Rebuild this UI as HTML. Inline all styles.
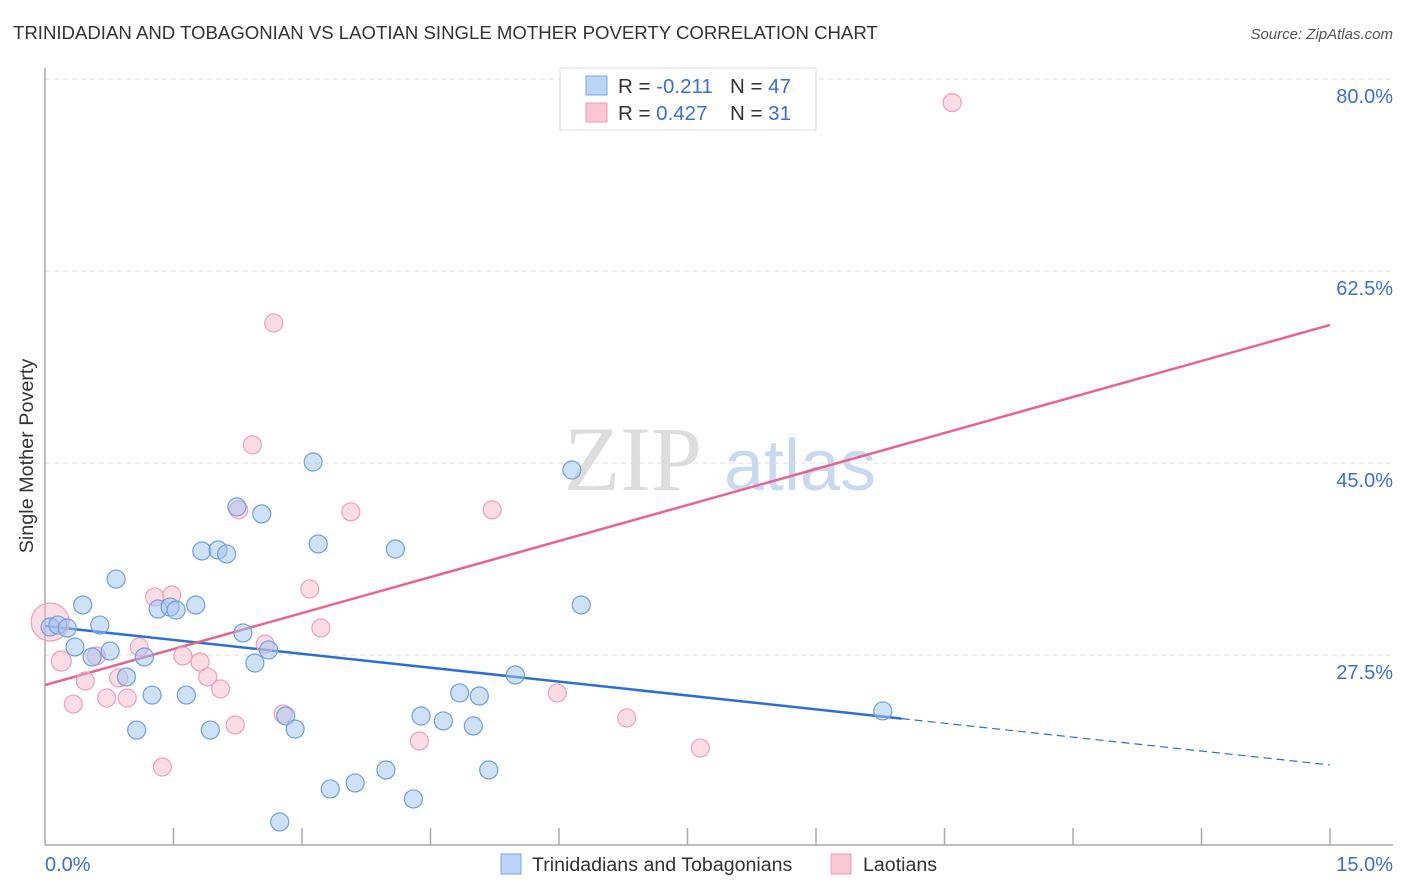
<!DOCTYPE html>
<html><head><meta charset="utf-8"><style>
body{margin:0;background:#fff;font-family:"Liberation Sans",sans-serif;}
svg{display:block}
</style></head><body>
<svg width="1406" height="892" xmlns="http://www.w3.org/2000/svg" id="chart">
<text x="13" y="39" font-size="18.6" fill="#333">TRINIDADIAN AND TOBAGONIAN VS LAOTIAN SINGLE MOTHER POVERTY CORRELATION CHART</text>
<text x="1393" y="39" font-size="15" fill="#555" font-style="italic" text-anchor="end">Source: ZipAtlas.com</text>
<text x="33" y="456" font-size="19.8" fill="#333" text-anchor="middle" transform="rotate(-90 33 456)">Single Mother Poverty</text>
<g>
<text x="633" y="490" font-size="92" font-family="Liberation Serif,serif" fill="#ddd" text-anchor="middle">ZIP</text>
<text x="800" y="490" font-size="72" fill="#c8daf0" text-anchor="middle">atlas</text>
</g>
<g id="grid"></g><g id="axes"></g><g id="trends"></g><g id="points"></g>
<g>
<rect x="560" y="68" width="256" height="62" fill="#fff" stroke="#ddd"/>
<rect x="586" y="76" width="21" height="19" fill="#bcd4f6" stroke="#7aa6e6"/>
<rect x="586" y="103" width="21" height="19" fill="#fbc6d6" stroke="#f09ab4"/>
<text x="618" y="93" font-size="20.5" fill="#333">R = <tspan fill="#3b6fd6">-0.211</tspan><tspan x="730">N = </tspan><tspan fill="#3b6fd6">47</tspan></text>
<text x="618" y="120" font-size="20.5" fill="#333">R = <tspan fill="#3b6fd6"> 0.427</tspan><tspan x="730">N = </tspan><tspan fill="#3b6fd6"> 31</tspan></text>
</g>
<g>
<rect x="501" y="854" width="20" height="20" fill="#bcd4f6" stroke="#7aa6e6"/>
<text x="532" y="871" font-size="19.6" fill="#333">Trinidadians and Tobagonians</text>
<rect x="831" y="854" width="20" height="20" fill="#fbc6d6" stroke="#f09ab4"/>
<text x="863" y="871" font-size="19.6" fill="#333">Laotians</text>
</g>
</svg>
<script>
const NS="http://www.w3.org/2000/svg";
const blueX=[0.06,0.15,0.26,0.35,0.44,0.64,0.76,0.55,0.83,0.95,1.07,1.16,1.25,1.32,1.46,1.53,1.65,1.76,1.83,1.93,2.02,2.12,2.24,2.31,2.45,2.53,2.61,2.74,2.81,2.92,3.13,3.19,3.33,3.62,3.98,4.09,4.30,4.39,4.65,4.84,5.00,5.07,5.18,5.49,6.15,6.26,9.78];
const blueY=[30.05,30.23,29.96,28.23,32.06,30.23,27.86,27.32,34.42,25.50,20.66,27.32,23.85,31.69,31.87,31.60,23.85,32.06,36.98,20.66,37.07,36.71,41.00,29.51,26.77,40.36,27.96,12.28,21.94,20.75,45.09,37.62,15.29,15.84,17.02,37.16,14.38,21.94,21.49,24.04,21.03,23.76,17.02,25.68,44.36,32.06,22.40];
const pinkX=[0.06,0.19,0.33,0.47,0.60,0.72,0.86,0.96,1.10,1.28,1.37,1.48,1.61,1.81,1.90,2.05,2.22,2.26,2.42,2.57,2.67,2.78,3.09,3.22,3.57,4.37,5.22,5.98,6.79,7.65,10.59];
const pinkY=[30.51,26.95,23.03,25.13,27.41,23.58,25.41,23.58,28.23,32.79,17.29,32.97,27.41,26.86,25.50,24.40,21.12,40.73,46.65,28.50,57.76,22.13,33.52,29.96,40.55,19.66,40.73,24.04,21.76,19.02,77.85];
const pinkR=[19,10,9,9,9,9,9,9,9,9,9,9,9,9,9,9,9,9,9,9,9,9,9,9,9,9,9,9,9,9,9];
const yTicks=[27.5,45.0,62.5,80.0];
const xTickLabels=["0.0%","15.0%"];
const blueTrend=[30.14,-0.844];
const pinkTrend=[24.76,2.188];
const X=v=>45+v*1285/15;
const Y=v=>655-(v-27.5)*192/17.5;
function mk(tag,attrs,parent){const e=document.createElementNS(NS,tag);for(const k in attrs)e.setAttribute(k,attrs[k]);parent.appendChild(e);return e;}
const grid=document.getElementById('grid'),axes=document.getElementById('axes');
yTicks.forEach(t=>{
 const l=mk('line',{x1:45,x2:1393,y1:Y(t),y2:Y(t),stroke:'#ddd','stroke-dasharray':'5,4'},grid);
 
 
 const tx=mk('text',{x:1393,y:Y(t)+24,'font-size':20,fill:'#3b6fd6','text-anchor':'end'},grid);
 tx.textContent=t.toFixed(1)+"%";
 
 
});
const ya=mk('line',{x1:45,x2:45,y1:68,y2:845,stroke:'#aaa','stroke-width':1.5},axes);


const xa=mk('line',{x1:45,x2:1393,y1:845,y2:845,stroke:'#aaa','stroke-width':1.5},axes);


for(let i=1;i<=10;i++){const v=i*1.5;
 const tk=mk('line',{x1:X(v),x2:X(v),y1:828,y2:845,stroke:'#aaa','stroke-width':1.5},axes);
 
 
}
[[0,'start',45],[15,'end',1393]].forEach((d,i)=>{
 const t=mk('text',{x:d[2],y:871,'font-size':20,fill:'#3b6fd6','text-anchor':d[1]},axes);
 t.textContent=xTickLabels[i];
 
 
});
const tr=document.getElementById('trends');
let bt=mk('line',{x1:X(0),y1:Y(blueTrend[0]),x2:X(10),y2:Y(blueTrend[0]+blueTrend[1]*10),stroke:'#2b6fd6','stroke-width':2.5},tr);


bt=mk('line',{x1:X(10),y1:Y(blueTrend[0]+blueTrend[1]*10),x2:X(15),y2:Y(blueTrend[0]+blueTrend[1]*15),stroke:'#2b6fd6','stroke-width':1.2,'stroke-dasharray':'8,5'},tr);


const pt=mk('line',{x1:X(0),y1:Y(pinkTrend[0]),x2:X(15),y2:Y(pinkTrend[0]+pinkTrend[1]*15),stroke:'#e8648f','stroke-width':2.5},tr);


const pts=document.getElementById('points');
pinkX.forEach((x,i)=>{
 const c=mk('circle',{cx:X(x),cy:Y(pinkY[i]),r:pinkR[i],fill:'rgba(248,180,200,0.45)',stroke:'#f0a0b8','stroke-width':1.2},pts);
 
 
});
blueX.forEach((x,i)=>{
 const c=mk('circle',{cx:X(x),cy:Y(blueY[i]),r:9,fill:'rgba(160,196,240,0.5)',stroke:'#6f9fe0','stroke-width':1.2},pts);
 
 
});
</script>
</body></html>
